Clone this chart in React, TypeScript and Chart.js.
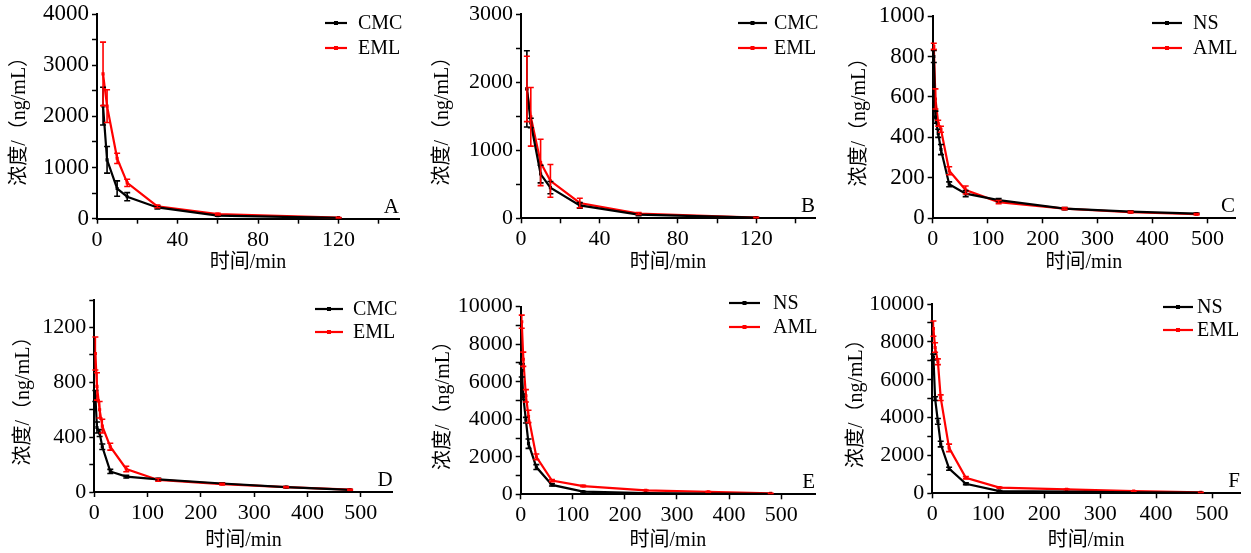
import React, { useEffect, useRef } from 'react';
import { Chart, registerables } from 'chart.js';

Chart.register(...registerables);
Chart.defaults.color = '#000';

const FONT = "'Liberation Serif', 'Noto Sans CJK SC', serif";
const COLORS = ['#000000', '#ff0000'];
const X_TITLE = '时间/min';
const Y_TITLE = '浓度/（ng/mL）';

// sampling times (min)
const TIME_AB = [3, 5, 10, 15, 30, 60, 120];
const TIME_CF = [2, 5, 10, 15, 30, 60, 120, 240, 360, 480];

// Panel A
const A_NAMES = ['CMC', 'EML'];
const A_CMC = [2200, 1150, 590, 430, 220, 60, 15];
const A_CMC_SD = [370, 260, 150, 80, 30, 10, 3];
const A_EML = [2830, 2200, 1180, 700, 240, 90, 20];
const A_EML_SD = [620, 320, 100, 70, 25, 15, 4];

// Panel B
const B_NAMES = ['CMC', 'EML'];
const B_CMC = [1900, 1400, 650, 450, 190, 55, 10];
const B_CMC_SD = [560, 70, 130, 90, 40, 15, 3];
const B_EML = [1900, 1490, 820, 550, 225, 70, 12];
const B_EML_SD = [480, 430, 340, 240, 70, 15, 3];

// Panel C
const C_NAMES = ['NS', 'AML'];
const C_NS = [800, 500, 420, 340, 168, 122, 90, 48, 33, 23];
const C_NS_SD = [30, 30, 20, 25, 12, 15, 8, 5, 4, 3];
const C_AML = [850, 590, 470, 440, 235, 140, 80, 48, 30, 20];
const C_AML_SD = [15, 50, 15, 15, 20, 20, 8, 5, 4, 3];

// Panel D
const D_NAMES = ['CMC', 'EML'];
const D_CMC = [700, 470, 430, 330, 150, 112, 92, 62, 36, 15];
const D_CMC_SD = [40, 40, 25, 20, 15, 10, 8, 5, 4, 3];
const D_EML = [1010, 770, 600, 480, 330, 168, 88, 58, 35, 17];
const D_EML_SD = [120, 100, 60, 50, 25, 20, 10, 6, 4, 3];

// Panel E
const E_NAMES = ['NS', 'AML'];
const E_NS = [6600, 5200, 3950, 2700, 1450, 500, 140, 60, 40, 20];
const E_NS_SD = [350, 150, 150, 250, 130, 60, 20, 8, 5, 3];
const E_AML = [9200, 7200, 5250, 4150, 2000, 730, 440, 210, 130, 50];
const E_AML_SD = [350, 380, 330, 330, 150, 60, 40, 20, 15, 8];

// Panel F
const F_NAMES = ['NS', 'EML'];
const F_NS = [7200, 5000, 3800, 2600, 1300, 500, 120, 85, 55, 35];
const F_NS_SD = [150, 100, 150, 150, 80, 50, 20, 8, 5, 4];
const F_EML = [8700, 7700, 6950, 5050, 2400, 820, 300, 210, 120, 50];
const F_EML_SD = [400, 250, 150, 150, 200, 60, 30, 20, 15, 8];

const PANELS = [
  {
    letter: 'A', left: 0, top: 0, w: 420, h: 280, area: { l: 97, t: 14, r: 399, b: 218.7 },
    xMax: 150, xStep: 20, xLabelEvery: 40, yMax: 4000, yStep: 500, yLabelEvery: 1000, yFont: 23,
    times: TIME_AB, names: A_NAMES, values: [A_CMC, A_EML], sds: [A_CMC_SD, A_EML_SD],
    legend: { x0: 325, x1: 347, tx: 358, y0: 23, gap: 25 }, yTitleX: 20, xTitlePad: 5,
  },
  {
    letter: 'B', left: 420, top: 0, w: 415, h: 280, area: { l: 101, t: 14, r: 395, b: 218.3 },
    xMax: 150, xStep: 20, xLabelEvery: 40, yMax: 3000, yStep: 500, yLabelEvery: 1000, yFont: 22,
    times: TIME_AB, names: B_NAMES, values: [B_CMC, B_EML], sds: [B_CMC_SD, B_EML_SD],
    legend: { x0: 318, x1: 347, tx: 354, y0: 23, gap: 25 }, yTitleX: 22.5, xTitlePad: 5,
  },
  {
    letter: 'C', left: 835, top: 0, w: 416, h: 280, area: { l: 97.7, t: 16, r: 400, b: 218.3 },
    xMax: 550, xStep: 100, xLabelEvery: 100, yMax: 1000, yStep: 200, yLabelEvery: 200, yFont: 23,
    times: TIME_CF, names: C_NAMES, values: [C_NS, C_AML], sds: [C_NS_SD, C_AML_SD],
    legend: { x0: 317, x1: 347, tx: 358, y0: 23, gap: 25 }, yTitleX: 25, xTitlePad: 5,
  },
  {
    letter: 'D', left: 0, top: 280, w: 420, h: 273, area: { l: 94.3, t: 20, r: 392.7, b: 212 },
    xMax: 560, xStep: 100, xLabelEvery: 100, yMax: 1400, yStep: 200, yLabelEvery: 400, yFont: 22,
    times: TIME_CF, names: D_NAMES, values: [D_CMC, D_EML], sds: [D_CMC_SD, D_EML_SD],
    legend: { x0: 315, x1: 343, tx: 353, y0: 29, gap: 23 }, yTitleX: 24, xTitlePad: 0,
  },
  {
    letter: 'E', left: 420, top: 280, w: 415, h: 273, area: { l: 100.7, t: 26.7, r: 395, b: 214.3 },
    xMax: 565, xStep: 100, xLabelEvery: 100, yMax: 10000, yStep: 1000, yLabelEvery: 2000, yFont: 22,
    times: TIME_CF, names: E_NAMES, values: [E_NS, E_AML], sds: [E_NS_SD, E_AML_SD],
    legend: { x0: 309, x1: 340, tx: 353, y0: 23, gap: 24 }, yTitleX: 24, xTitlePad: 0,
  },
  {
    letter: 'F', left: 835, top: 280, w: 416, h: 273, area: { l: 97.3, t: 24, r: 405, b: 213.3 },
    xMax: 550, xStep: 100, xLabelEvery: 100, yMax: 10000, yStep: 1000, yLabelEvery: 2000, yFont: 22,
    times: TIME_CF, names: F_NAMES, values: [F_NS, F_EML], sds: [F_NS_SD, F_EML_SD],
    legend: { x0: 328, x1: 358, tx: 362, y0: 27, gap: 23 }, yTitleX: 22, xTitlePad: 0,
  },
];

const decoPlugin = {
  id: 'deco',
  afterDatasetsDraw(chart: any) {
    const ctx = chart.ctx;
    const y = chart.scales.y;
    chart.data.datasets.forEach((ds: any, i: number) => {
      const meta = chart.getDatasetMeta(i);
      ctx.save();
      ctx.strokeStyle = ds.borderColor;
      ctx.lineWidth = 1.6;
      meta.data.forEach((pt: any, j: number) => {
        const v = ds.data[j].y;
        const e = ds.errors[j];
        const yt = y.getPixelForValue(v + e);
        const yb = y.getPixelForValue(Math.max(v - e, 0));
        ctx.beginPath();
        ctx.moveTo(pt.x, yt);
        ctx.lineTo(pt.x, yb);
        ctx.moveTo(pt.x - 3, yt);
        ctx.lineTo(pt.x + 3, yt);
        ctx.moveTo(pt.x - 3, yb);
        ctx.lineTo(pt.x + 3, yb);
        ctx.stroke();
      });
      ctx.restore();
    });
  },
  afterDraw(chart: any, _args: any, opts: any) {
    const ctx = chart.ctx;
    const area = chart.chartArea;
    ctx.save();
    ctx.fillStyle = '#000';
    ctx.font = `21px ${FONT}`;
    ctx.textAlign = 'right';
    ctx.textBaseline = 'alphabetic';
    ctx.fillText(opts.letter, area.right, area.bottom - 6);
    const lg = opts.legend;
    chart.data.datasets.forEach((ds: any, i: number) => {
      const yy = lg.y0 + i * lg.gap;
      ctx.strokeStyle = ds.borderColor;
      ctx.lineWidth = 2.2;
      ctx.beginPath();
      ctx.moveTo(lg.x0, yy);
      ctx.lineTo(lg.x1, yy);
      ctx.stroke();
      ctx.fillStyle = ds.borderColor;
      const cx = (lg.x0 + lg.x1) / 2;
      ctx.fillRect(cx - 2, yy - 2, 4, 4);
      ctx.fillStyle = '#000';
      ctx.font = `20px ${FONT}`;
      ctx.textAlign = 'left';
      ctx.textBaseline = 'middle';
      ctx.fillText(ds.label, lg.tx, yy + 1);
    });
    ctx.restore();
  },
};

function Panel({ p }: { p: any }) {
  const ref = useRef<HTMLCanvasElement>(null);
  useEffect(() => {
    const gridCfg = {
      drawOnChartArea: false,
      drawTicks: true,
      tickLength: 5,
      color: '#000',
      tickColor: '#000',
      tickWidth: 1.5,
    };
    const chart = new Chart(ref.current as HTMLCanvasElement, {
      type: 'line',
      data: {
        datasets: p.names.map((name: string, i: number) => ({
          label: name,
          data: p.times.map((t: number, j: number) => ({ x: t, y: p.values[i][j] })),
          errors: p.sds[i],
          borderColor: COLORS[i],
          backgroundColor: COLORS[i],
          borderWidth: 2.2,
          pointRadius: 2.2,
          pointStyle: 'rect',
          pointBorderWidth: 0,
          tension: 0,
        })),
      } as any,
      options: {
        responsive: false,
        maintainAspectRatio: false,
        animation: false,
        layout: { padding: { top: p.area.t, right: p.w - p.area.r, left: 0, bottom: 0 } },
        scales: {
          x: {
            type: 'linear',
            min: 0,
            max: p.xMax,
            afterFit: (s: any) => {
              s.height = p.h - p.area.b;
              s.paddingLeft = 0;
              s.paddingRight = 0;
            },
            ticks: {
              stepSize: p.xStep,
              includeBounds: false,
              autoSkip: false,
              maxRotation: 0,
              padding: 3,
              color: '#000',
              font: { family: FONT, size: 22 },
              callback: (v: any) => (Math.round(v) % p.xLabelEvery === 0 ? String(v) : ''),
            },
            grid: gridCfg,
            border: { color: '#000', width: 2 },
            title: {
              display: true,
              text: X_TITLE,
              color: '#000',
              font: { family: FONT, size: 20 },
              padding: { top: 0, bottom: p.xTitlePad },
            },
          },
          y: {
            type: 'linear',
            min: 0,
            max: p.yMax,
            afterFit: (s: any) => {
              s.width = p.area.l;
              s.paddingTop = 0;
              s.paddingBottom = 0;
            },
            ticks: {
              stepSize: p.yStep,
              includeBounds: false,
              autoSkip: false,
              padding: 3,
              color: '#000',
              font: { family: FONT, size: p.yFont },
              callback: (v: any) => (Math.round(v) % p.yLabelEvery === 0 ? String(v) : ''),
            },
            grid: gridCfg,
            border: { color: '#000', width: 2 },
            title: {
              display: true,
              text: Y_TITLE,
              color: '#000',
              font: { family: FONT, size: 20 },
              padding: { top: p.yTitleX - 12, bottom: 0 },
            },
          },
        },
        plugins: {
          legend: { display: false },
          tooltip: { enabled: false },
          deco: { letter: p.letter, legend: p.legend },
        } as any,
      } as any,
      plugins: [decoPlugin],
    });
    return () => chart.destroy();
  }, []);
  return (
    <canvas
      ref={ref}
      width={p.w}
      height={p.h}
      style={{ position: 'absolute', left: p.left, top: p.top, width: p.w, height: p.h }}
    />
  );
}

export default function App() {
  return (
    <div style={{ position: 'absolute', left: 0, top: 0, width: 1251, height: 553, background: '#fff' }}>
      {PANELS.map((p) => (
        <Panel key={p.letter} p={p} />
      ))}
    </div>
  );
}
